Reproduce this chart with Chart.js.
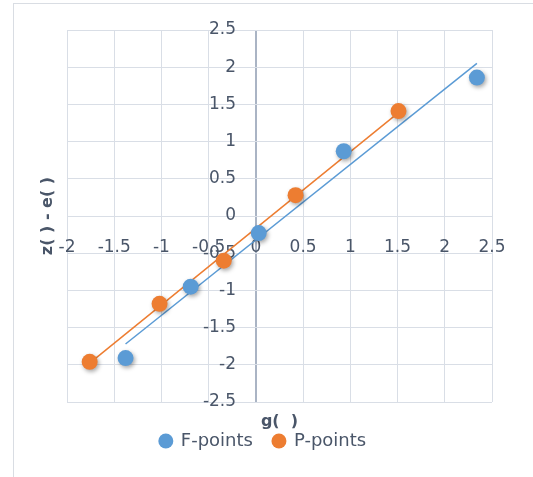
<!DOCTYPE html>
<html>
<head>
<meta charset="utf-8">
<script src="https://cdn.jsdelivr.net/npm/chart.js@4/dist/chart.umd.min.js"></script>
<style>
  html,body{margin:0;padding:0;background:#fff;}
  #wrap{position:relative;width:533px;height:477px;}
</style>
</head>
<body>
<div id="wrap"><canvas id="c" width="533" height="477"></canvas></div>
<script>
// ---- data ----
const seriesNames = ["F-points", "P-points"];
const fX = [-1.38, -0.69, 0.03, 0.93, 2.34];
const fY = [-1.91, -0.95, -0.23, 0.87, 1.86];
const pX = [-1.76, -1.02, -0.34, 0.42, 1.51];
const pY = [-1.96, -1.18, -0.60, 0.28, 1.41];
const xTicks = [-2, -1.5, -1, -0.5, 0, 0.5, 1, 1.5, 2, 2.5];
const yTicks = [-2.5, -2, -1.5, -1, -0.5, 0, 0.5, 1, 1.5, 2, 2.5];
const xTitle = "g(  )";
const yTitle = "z( ) - e( )";

const BLUE = "#5B9BD5", ORANGE = "#ED7D31";
const TEXT = "#4a5669", GRID = "#d9dee6", AXIS = "#aab4c4";
const FONT = "'DejaVu Sans', sans-serif";

function pts(xs, ys){ return xs.map((x,i)=>({x:x, y:ys[i]})); }
// linear least-squares trendline over the series' x range
function trend(xs, ys){
  const n = xs.length;
  const mx = xs.reduce((a,b)=>a+b,0)/n, my = ys.reduce((a,b)=>a+b,0)/n;
  let sxy=0, sxx=0;
  for(let i=0;i<n;i++){ sxy+=(xs[i]-mx)*(ys[i]-my); sxx+=(xs[i]-mx)*(xs[i]-mx); }
  const m = sxy/sxx, b = my - m*mx;
  const x0 = Math.min(...xs), x1 = Math.max(...xs);
  return [{x:x0, y:m*x0+b}, {x:x1, y:m*x1+b}];
}

const frame = {
  id: 'frame',
  beforeDraw(chart){
    const ctx = chart.ctx;
    ctx.save();
    ctx.strokeStyle = '#d9dde3';
    ctx.lineWidth = 1;
    ctx.strokeRect(13.5, 3.5, 700, 700);
    ctx.restore();
  },
  beforeDatasetDraw(chart, args){
    if(args.index < 2){
      const ctx = chart.ctx;
      ctx.save();
      ctx.shadowColor = 'rgba(0,0,0,0.35)';
      ctx.shadowBlur = 4;
      ctx.shadowOffsetX = 1.5;
      ctx.shadowOffsetY = 2;
    }
  },
  afterDatasetDraw(chart, args){
    if(args.index < 2){ chart.ctx.restore(); }
  }
};

const tickFont = {family: FONT, size: 17};
const fmt = (v) => String(v);

new Chart(document.getElementById('c'), {
  type: 'scatter',
  data: {
    datasets: [
      {label: seriesNames[0], data: pts(fX,fY), xAxisID:'x', yAxisID:'y',
       backgroundColor: BLUE, borderColor: BLUE, pointRadius: 8, pointHoverRadius: 8, borderWidth: 0},
      {label: seriesNames[1], data: pts(pX,pY), xAxisID:'x', yAxisID:'y',
       backgroundColor: ORANGE, borderColor: ORANGE, pointRadius: 8, pointHoverRadius: 8, borderWidth: 0},
      {label: 'trendF', data: trend(fX,fY), xAxisID:'x', yAxisID:'y', showLine: true,
       borderColor: BLUE, borderWidth: 1.5, pointRadius: 0, fill: false},
      {label: 'trendP', data: trend(pX,pY), xAxisID:'x', yAxisID:'y', showLine: true,
       borderColor: ORANGE, borderWidth: 1.5, pointRadius: 0, fill: false}
    ]
  },
  options: {
    responsive: false,
    animation: false,
    events: [],
    layout: {padding: {left: 34, right: 41, top: 30, bottom: 17}},
    plugins: {
      tooltip: {enabled: false},
      legend: {
        position: 'bottom',
        labels: {
          filter: (item) => item.datasetIndex < 2,
          usePointStyle: true, pointStyle: 'circle',
          boxWidth: 12, boxHeight: 10.6,
          color: TEXT, font: {family: FONT, size: 18}, padding: 20
        }
      }
    },
    scales: {
      x: {
        type: 'linear', min: -2, max: 2.5,
        position: {y: 0},
        afterBuildTicks: (s) => { s.ticks = xTicks.map(v=>({value:v})); },
        ticks: {color: TEXT, font: tickFont, padding: 21, maxRotation: 0, autoSkip: false, callback: fmt},
        grid: {
          color: (c) => (c.tick && c.tick.value === 0) ? AXIS : GRID,
          lineWidth: (c) => (c.tick && c.tick.value === 0) ? 2 : 1,
          drawTicks: false
        },
        border: {display: false}
      },
      y: {
        type: 'linear', min: -2.5, max: 2.5,
        position: {x: -0.21},
        afterBuildTicks: (s) => { s.ticks = yTicks.map(v=>({value:v})); },
        ticks: {color: TEXT, font: tickFont, padding: 0, autoSkip: false, callback: fmt},
        grid: {color: GRID, lineWidth: 1, drawTicks: false},
        border: {display: false}
      },
      xt: {
        type: 'linear', axis: 'x', position: 'bottom', min: 0, max: 1,
        ticks: {display: false}, grid: {display: false, drawTicks: false}, border: {display: false},
        title: {display: true, text: xTitle, color: TEXT, font: {family: FONT, size: 16, weight: 'bold'}, padding: {top: 10.4, bottom: -19.6}}
      },
      yt: {
        type: 'linear', axis: 'y', position: 'left', min: 0, max: 1,
        ticks: {display: false}, grid: {display: false, drawTicks: false}, border: {display: false},
        title: {display: true, text: yTitle, color: TEXT, font: {family: FONT, size: 16, weight: 'bold'}, padding: {top: 4.4, bottom: 9.4}}
      }
    }
  },
  plugins: [frame]
});
</script>
</body>
</html>
